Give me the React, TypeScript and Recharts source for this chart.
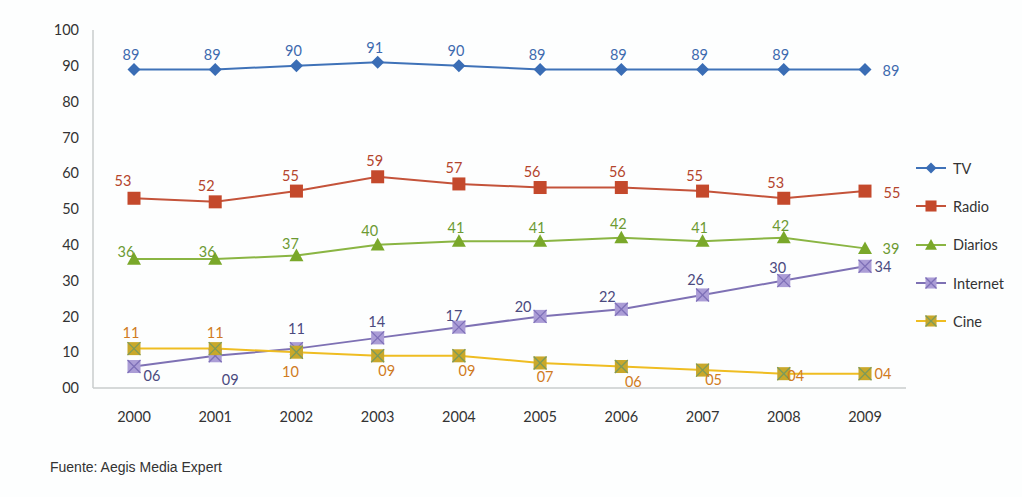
import React from "react";
import { LineChart, Line, XAxis, YAxis } from "recharts";

const years = ["2000", "2001", "2002", "2003", "2004", "2005", "2006", "2007", "2008", "2009"];
const tv = [89, 89, 90, 91, 90, 89, 89, 89, 89, 89];
const radio = [53, 52, 55, 59, 57, 56, 56, 55, 53, 55];
const diarios = [36, 36, 37, 40, 41, 41, 42, 41, 42, 39];
const internet = [6, 9, 11, 14, 17, 20, 22, 26, 30, 34];
const cine = [11, 11, 10, 9, 9, 7, 6, 5, 4, 4];
const yTicks = [0, 10, 20, 30, 40, 50, 60, 70, 80, 90, 100];

// label placement offsets [dx, dy] relative to the point (styling only)
const tvLabel = [[-3, -15], [-3, -15], [-3, -15], [-3, -15], [-3, -15], [-3, -15], [-3, -15], [-3, -15], [-3, -15], [26, 1]];
const radioLabel = [[-11, -18], [-9, -16], [-6, -16], [-3, -16], [-5, -16], [-8, -16], [-4, -16], [-8, -16], [-8, -16], [27, 1]];
const diariosLabel = [[-8, -8], [-8, -8], [-6, -12], [-8, -14], [-3, -14], [-3, -14], [-3, -14], [-3, -14], [-3, -12], [26, 0]];
const internetLabel = [[18, 9], [15, 24], [0, -20], [-1, -16], [-5, -12], [-17, -10], [-14, -13], [-7, -15], [-6, -13], [18, 0]];
const cineLabel = [[-3, -16], [0, -16], [-6, 19], [9, 15], [8, 15], [5, 14], [12, 15], [11, 9], [12, 2], [18, 0]];

const data = years.map((y, i) => ({
  year: y,
  TV: tv[i],
  Radio: radio[i],
  Diarios: diarios[i],
  Internet: internet[i],
  Cine: cine[i],
}));

const FONT = "Lato, 'Noto Sans', sans-serif";
const pad = (v: number) => (v < 10 ? "0" + v : String(v));

type Marker = "diamond" | "square" | "triangle" | "xsquare";

function drawMarker(kind: Marker, cx: number, cy: number, fill: string, stroke: string, s = 1) {
  if (kind === "diamond") {
    const r = 6.5 * s;
    return <polygon points={`${cx},${cy - r} ${cx + r},${cy} ${cx},${cy + r} ${cx - r},${cy}`} fill={fill} />;
  }
  if (kind === "square") {
    const r = 6.5 * s;
    return <rect x={cx - r} y={cy - r} width={2 * r} height={2 * r} fill={fill} />;
  }
  if (kind === "triangle") {
    const r = 7 * s;
    return <polygon points={`${cx},${cy - r} ${cx + r},${cy + r * 0.8} ${cx - r},${cy + r * 0.8}`} fill={fill} />;
  }
  const r = 6.5 * s;
  return (
    <g>
      <rect x={cx - r} y={cy - r} width={2 * r} height={2 * r} fill={fill} />
      <line x1={cx - r} y1={cy - r} x2={cx + r} y2={cy + r} stroke={stroke} strokeWidth={1.3} />
      <line x1={cx - r} y1={cy + r} x2={cx + r} y2={cy - r} stroke={stroke} strokeWidth={1.3} />
    </g>
  );
}

function makeDot(kind: Marker, fill: string, stroke: string, labelColor: string, offsets: number[][]) {
  return (props: any) => {
    const { cx, cy, index, value } = props;
    if (cx == null || cy == null) return <g key={index} />;
    const [dx, dy] = offsets[index] || [0, -15];
    return (
      <g key={index}>
        {drawMarker(kind, cx, cy, fill, stroke)}
        <text
          x={cx + dx}
          y={cy + dy}
          textAnchor="middle"
          dominantBaseline="central"
          fontFamily={FONT}
          fontSize={14.5}
          fill={labelColor}
        >
          {pad(value)}
        </text>
      </g>
    );
  };
}

const series = [
  { key: "TV", line: "#3f72b8", fill: "#3a6db5", stroke: "#3a6db5", label: "#3d6aae", kind: "diamond" as Marker, off: tvLabel },
  { key: "Radio", line: "#c4533a", fill: "#c4492c", stroke: "#c4492c", label: "#b4442c", kind: "square" as Marker, off: radioLabel },
  { key: "Diarios", line: "#8ab543", fill: "#7aa82a", stroke: "#7aa82a", label: "#6c9a32", kind: "triangle" as Marker, off: diariosLabel },
  { key: "Internet", line: "#7e71b4", fill: "#ab9dd6", stroke: "#7e70b8", label: "#4b4a7e", kind: "xsquare" as Marker, off: internetLabel },
  { key: "Cine", line: "#efbd22", fill: "#c9a82a", stroke: "#7c9a5a", label: "#d07b22", kind: "xsquare" as Marker, off: cineLabel },
];

const LegendBox = () => (
  <div style={{ position: "absolute", left: 915, top: 149, fontFamily: FONT, fontSize: 14.5, color: "#333" }}>
    {series.map((s) => (
      <div key={s.key} style={{ display: "flex", alignItems: "center", height: 38.3 }}>
        <svg width={32} height={16} style={{ marginRight: 6 }}>
          <line x1={1} y1={8} x2={31} y2={8} stroke={s.line} strokeWidth={2} />
          {drawMarker(s.kind, 16, 8, s.fill, s.stroke, 0.85)}
        </svg>
        <span>{s.key}</span>
      </div>
    ))}
  </div>
);

export default function App() {
  return (
    <div style={{ position: "absolute", left: 0, top: 0, width: 1022, height: 497, background: "#fdfefe" }}>
      <LineChart width={1022} height={497} data={data} margin={{ top: 30, right: 116, bottom: 79, left: 0 }}>
        <XAxis
          dataKey="year"
          height={30}
          padding={{ left: 41, right: 41 }}
          tickLine={false}
          axisLine={{ stroke: "#c8cccc", strokeWidth: 1.5 }}
          tickMargin={18}
          tick={{ fill: "#333", fontSize: 14.5, fontFamily: FONT }}
          interval={0}
        />
        <YAxis
          width={93}
          domain={[0, 100]}
          ticks={yTicks}
          interval={0}
          tickLine={false}
          axisLine={{ stroke: "#c8cccc", strokeWidth: 1.5 }}
          tickMargin={8}
          tickFormatter={pad}
          tick={{ fill: "#333", fontSize: 14.5, fontFamily: FONT }}
        />
        {series.map((s) => (
          <Line
            key={s.key}
            dataKey={s.key}
            stroke={s.line}
            strokeWidth={2}
            isAnimationActive={false}
            dot={makeDot(s.kind, s.fill, s.stroke, s.label, s.off)}
            activeDot={false}
          />
        ))}
      </LineChart>
      <LegendBox />
      <div
        style={{
          position: "absolute",
          left: 50,
          top: 459,
          fontFamily: "'Liberation Sans', Arial, sans-serif",
          fontSize: 14,
          color: "#333",
        }}
      >
        Fuente: Aegis Media Expert
      </div>
    </div>
  );
}
